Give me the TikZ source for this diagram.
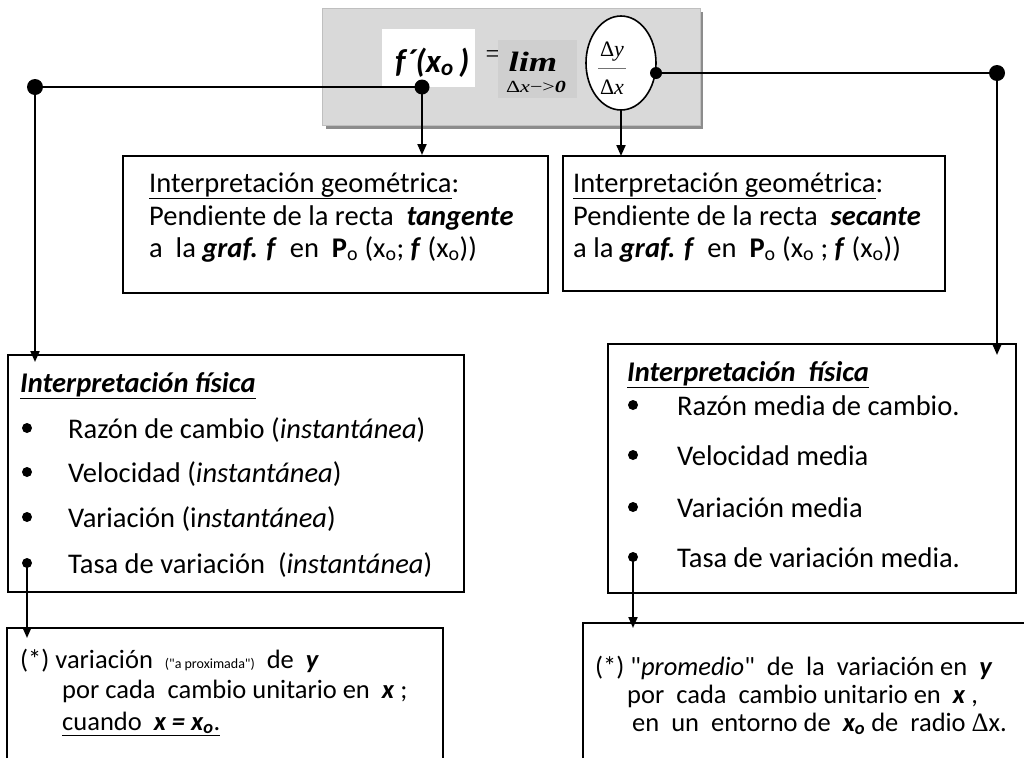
\documentclass[tikz,border=0pt]{standalone}
\usepackage{fontspec}
\setmainfont{Carlito}[Ligatures=TeXOff]
\newfontfamily\tms{Liberation Serif}
\usetikzlibrary{arrows.meta,shapes.geometric}
\begin{document}
\begin{tikzpicture}[x=1pt,y=-1pt,
  box/.style={draw, line width=2pt, inner sep=0pt, anchor=north west},
  conn/.style={line width=2pt},
  arr/.style={conn, -{Triangle[length=11pt,width=9pt]}},
  dotn/.style={circle, fill, inner sep=0pt, minimum size=15pt},
  bul/.style={circle, fill, inner sep=0pt, minimum size=10pt},
  tx/.style={anchor=base west, inner sep=0pt, font=\fontsize{28.5}{33}\selectfont},
  nt/.style={anchor=base west, inner sep=0pt, font=\fontsize{26.5}{31}\selectfont},
]
\useasboundingbox (0,0) rectangle (1024,758);
% ---------- header ----------
\fill[black!45] (326,12) rectangle (703,129);
\node[box, draw=black!25, line width=0.8pt, fill=black!15, minimum width=378pt, minimum height=117pt] (hdr) at (322,8) {};
\node[fill=white, anchor=north west, inner sep=0pt, minimum width=93pt, minimum height=58pt] (fw) at (382,29) {};
\node[anchor=base west, inner sep=0pt, font=\fontsize{33}{36}\selectfont\bfseries\itshape] (fx) at (395,72) {f´(x\textsubscript{o}\,)};
\node[anchor=base, inner sep=0pt, font=\tms\fontsize{26}{28}\selectfont] (eq) at (493,62) {=};
\node[fill=black!19, anchor=north west, inner sep=0pt, minimum width=79pt, minimum height=58pt] (limbg) at (498,40) {};
\node[anchor=base, inner sep=0pt, font=\tms\fontsize{28}{30}\selectfont\bfseries\itshape] (lim) at (533,71) {\scalebox{1.3}[1]{lim}};
\node[anchor=base, inner sep=0pt, font=\tms\fontsize{17}{20}\selectfont] (lx) at (536,92) {\scalebox{1.3}[1]{Δ\textit{x}−>\textbf{\textit{0}}}};
\node[ellipse, draw, fill=white, line width=1.6pt, inner sep=0pt, minimum width=70pt, minimum height=94pt] (el) at (621,63) {};
\node[anchor=base, inner sep=0pt, font=\tms\fontsize{22}{24}\selectfont] (dy) at (612,56) {Δ\textit{y}};
\draw[black!55, line width=1pt] (598,68) -- (626,68);
\node[anchor=base, inner sep=0pt, font=\tms\fontsize{22}{24}\selectfont] (dxn) at (612,94) {Δ\textit{x}};
% ---------- boxes ----------
\node[box, minimum width=425pt, minimum height=137pt] (g1) at (122,155) {};
\node[box, minimum width=382pt, minimum height=135pt] (g2) at (562,155) {};
\node[box, minimum width=456pt, minimum height=237pt] (p1) at (7,354) {};
\node[box, minimum width=408pt, minimum height=249pt] (p2) at (607,343) {};
\draw[line width=1.4pt] (7,758) -- (7,628) -- (443,628) -- (443,758);
\draw[line width=1.4pt] (583,758) -- (583,623) -- (1026,623);
% ---------- texts: geometric ----------
\node[tx] (g1a) at (149,192) {\underline{Interpretación geométrica}:};
\node[tx] (g1b) at (149,225) {Pendiente de la recta\ \ \textbf{\textit{tangente}}};
\node[tx] (g1c) at (149,257) {a\ \ la \textbf{\textit{graf. f}}\ \ en\ \ \textbf{P}\textsubscript{o} (x\textsubscript{o}; \textbf{\textit{f}} (x\textsubscript{o}))};
\node[tx] (g2a) at (573,192) {\underline{Interpretación geométrica}:};
\node[tx] (g2b) at (573,225) {Pendiente de la recta\ \ \textbf{\textit{secante}}};
\node[tx] (g2c) at (573,257) {a la \textbf{\textit{graf. f}}\ \ en\ \ \textbf{P}\textsubscript{o} (x\textsubscript{o} ; \textbf{\textit{f}} (x\textsubscript{o}))};
% ---------- texts: physical left ----------
\node[tx] (p1t) at (20,392) {\textbf{\textit{\underline{Interpretación física}}}};
\node[bul] (bL1) at (27,428) {};
\node[bul] (bL2) at (27,472) {};
\node[bul] (bL3) at (27,517) {};
\node[tx] (tL1) at (68,438) {Razón de cambio (\textit{instantánea})};
\node[tx] (tL2) at (68,482) {Velocidad (\textit{instantánea})};
\node[tx] (tL3) at (68,527) {Variación (i\textit{nstantánea})};
\node[tx] (tL4) at (68,573) {Tasa de variación\ \ (\textit{instantánea})};
% ---------- texts: physical right ----------
\node[tx] (p2t) at (627,381) {\textbf{\textit{\underline{Interpretación\ \ física}}}};
\node[bul] (bR1) at (633,405) {};
\node[bul] (bR2) at (633,455) {};
\node[bul] (bR3) at (633,507) {};
\node[tx] (tR1) at (677,415) {Razón media de cambio.};
\node[tx] (tR2) at (677,465) {Velocidad media};
\node[tx] (tR3) at (677,517) {Variación media};
\node[tx] (tR4) at (677,567) {Tasa de variación media.};
% ---------- notes ----------
\node[nt] (n1a) at (20,668) {(*) variación \ {\fontsize{14}{16}\selectfont ("a proximada")}\ \ de\ \ \textbf{\textit{y}}};
\node[nt] (n1b) at (62,698) {por cada\ \ cambio unitario en\ \ \textbf{\textit{x}} ;};
\node[nt] (n1c) at (62,730) {\underline{cuando\ \ \textbf{\textit{x = x\textsubscript{o}}}.}};
\node[nt] (n2a) at (595,675) {(*) "\textit{promedio}"\ \ de\ \ la\ \ variación en\ \ \textbf{\textit{y}}};
\node[nt] (n2b) at (627,703) {por\ \ cada\ \ cambio unitario en\ \ \textbf{\textit{x}} ,};
\node[nt] (n2c) at (632,731) {en\ \ un\ \ entorno de\ \ \textbf{\textit{x\textsubscript{o}}} de\ \ radio {\tms Δ}x.};
% ---------- connector points ----------
\coordinate (dL) at (422,87);
\coordinate (dLL) at (35,87);
\coordinate (dE) at (656,73);
\coordinate (dR) at (997,73);
\coordinate (aL) at (35,362);
\coordinate (aR) at (997,355);
\coordinate (a1) at (422,155);
\coordinate (a2) at (621,156);
\coordinate (bL4) at (27,563);
\coordinate (bR4) at (633,557);
\coordinate (aN1) at (27,638);
\coordinate (aN2) at (633,628);
% ---------- connectors ----------
\draw[conn] (dLL) -- (dL);
\draw[arr] (dLL) -- (aL);
\draw[arr] (dL) -- (a1);
\draw[arr] (el.south) -- (a2);
\draw[conn] (dE) -- (dR);
\draw[arr] (dR) -- (aR);
\draw[arr] (bL4) -- (aN1);
\draw[arr] (bR4) -- (aN2);
% ---------- dots ----------
\node[dotn] (DL) at (dL) {};
\node[dotn, minimum size=16pt] (DLL) at (dLL) {};
\node[dotn, minimum size=12pt] (DE) at (dE) {};
\node[dotn, minimum size=16pt] (DR) at (dR) {};
\node[bul] (BL4) at (bL4) {};
\node[bul] (BR4) at (bR4) {};
\end{tikzpicture}
\end{document}
